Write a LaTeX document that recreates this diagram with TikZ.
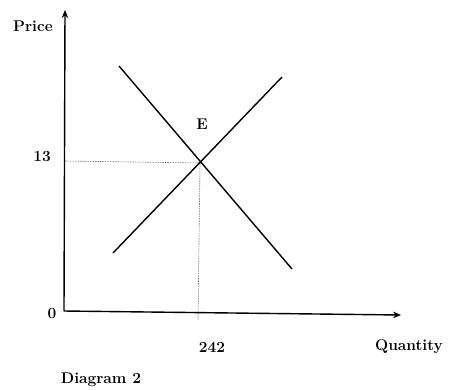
\documentclass[tikz,border=0pt]{standalone}
\usetikzlibrary{arrows.meta}
\begin{document}
\begin{tikzpicture}[x=1pt,y=-1pt,
  lbl/.style={font=\fontsize{15.5}{18}\selectfont\bfseries, inner sep=0pt},
  axis/.style={line width=1.4pt, -{Stealth[length=8pt,width=6.5pt]}},
  curve/.style={line width=1.4pt},
  guide/.style={dash pattern=on 1.5pt off 1pt, line width=0.6pt, black!55}]
\useasboundingbox (0,0) rectangle (449,389);
\coordinate (O) at (64,311);
\coordinate (ytop) at (65,10);
\coordinate (xend) at (401,315);
\coordinate (d1) at (119,66);
\coordinate (d2) at (292,269);
\coordinate (s1) at (113,253);
\coordinate (s2) at (282,77);
\coordinate (Eq) at (200,163);
\coordinate (yq) at (65,161);
\coordinate (xq) at (198,320);
\draw[guide] (yq) -- (Eq);
\draw[guide] (Eq) -- (xq);
\draw[axis] (O) -- (ytop);
\draw[axis] (O) -- (xend);
\draw[curve] (d1) -- (d2);
\draw[curve] (s1) -- (s2);
\node[lbl] (price) at (33,26) {Price};
\node[lbl] (p13) at (42,157) {13};
\node[lbl] (zero) at (52,314) {0};
\node[lbl] (q242) at (212,347) {242};
\node[lbl] (qty) at (409,347) {Quantity};
\node[lbl] (E) at (202,124) {E};
\node[lbl] (cap) at (101,380) {Diagram 2};
\end{tikzpicture}
\end{document}
